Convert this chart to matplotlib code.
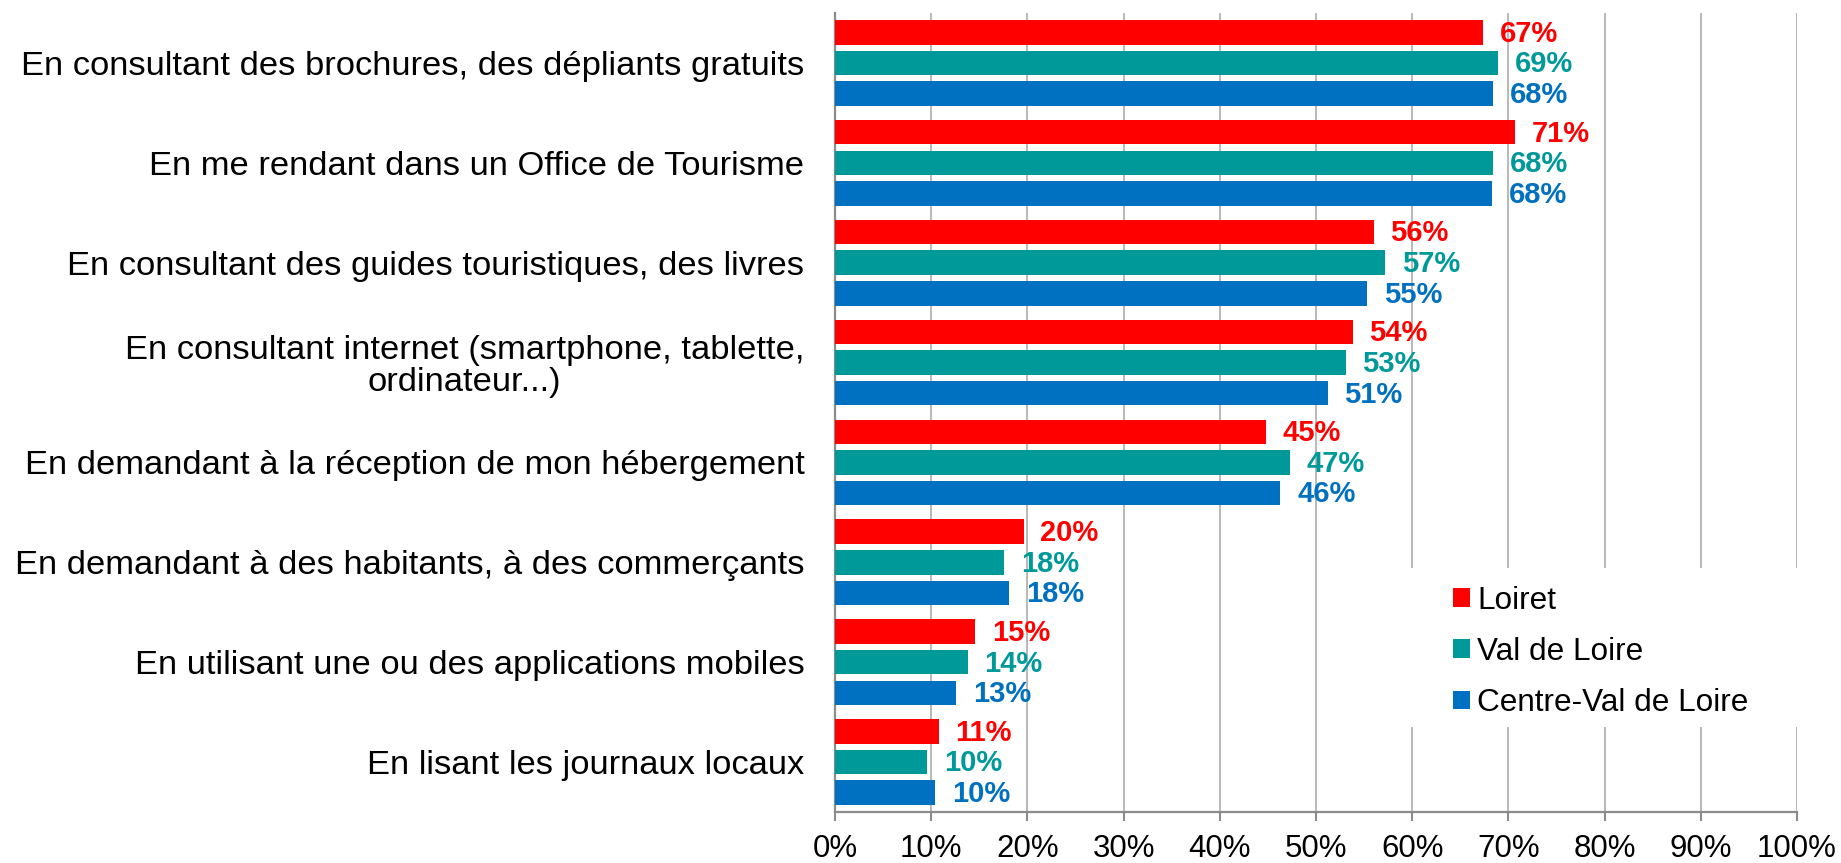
import matplotlib.pyplot as plt
from matplotlib.patches import Patch, Rectangle
import numpy as np

plt.rcParams['font.family'] = ['Liberation Sans', 'DejaVu Sans']

# categories, top to bottom
categories = [
    "En consultant des brochures, des dépliants gratuits",
    "En me rendant dans un Office de Tourisme",
    "En consultant des guides touristiques, des livres",
    "En consultant internet (smartphone, tablette,\nordinateur...)",
    "En demandant à la réception de mon hébergement",
    "En demandant à des habitants, à des commerçants",
    "En utilisant une ou des applications mobiles",
    "En lisant les journaux locaux",
]
loiret = [67.4, 70.7, 56.0, 53.8, 44.8, 19.6, 14.6, 10.8]
val_de_loire = [68.9, 68.4, 57.2, 53.1, 47.3, 17.6, 13.8, 9.6]
centre_vdl = [68.4, 68.3, 55.3, 51.2, 46.3, 18.1, 12.6, 10.4]
series_names = ["Loiret", "Val de Loire", "Centre-Val de Loire"]
xticks = [0, 10, 20, 30, 40, 50, 60, 70, 80, 90, 100]

colors = ["#FF0000", "#009999", "#0070C0"]

fig = plt.figure(figsize=(18.41, 8.63), dpi=100, facecolor='white')
ax = fig.add_axes([835/1841, 1 - 812/863, (1797 - 835)/1841, (812 - 13)/863])

y = np.arange(len(categories))
pitch = 0.307
h = 0.245
for k, (vals, col) in enumerate(zip([loiret, val_de_loire, centre_vdl], colors)):
    pos = y + (k - 1) * pitch
    ax.barh(pos, vals, height=h, color=col, zorder=3)
    for p, v in zip(pos, vals):
        ax.annotate(f"{round(v)}%", xy=(v, p), xytext=(12, -1),
                    textcoords='offset points', ha='left', va='center',
                    fontsize=21, fontweight='bold', color=col, zorder=4)

ax.set_xlim(0, 100)
ax.set_ylim(len(categories) - 0.5, -0.5)
ax.set_xticks(xticks)
ax.set_xticklabels([f"{t}%" for t in xticks], fontsize=22.5)
ax.set_yticks(y)
ax.set_yticklabels(categories, fontsize=24.8, multialignment='center',
                   linespacing=1.05)
ax.tick_params(axis='y', length=0, pad=22)
ax.tick_params(axis='x', length=6.5, width=1.5, color='#8C8C8C', pad=9)

ax.set_axisbelow(True)
ax.grid(axis='x', color='#A6A6A6', linewidth=1.1, zorder=0)
for s in ['top', 'right']:
    ax.spines[s].set_visible(False)
for s in ['left', 'bottom']:
    ax.spines[s].set_color('#8C8C8C')
    ax.spines[s].set_linewidth(1.6)

# white area behind the legend
ax.add_patch(Rectangle((1405/1841, 1 - 727/863), 436/1841, 159/863,
                       transform=fig.transFigure, facecolor='white',
                       edgecolor='none', zorder=1, clip_on=False))

handles = [Patch(facecolor=c, edgecolor='none') for c in colors]
fig.legend(handles, series_names, loc='center left',
           bbox_to_anchor=(1453/1841, 1 - 652/863), frameon=False,
           fontsize=22.7, handlelength=0.54, handleheight=0.54,
           handletextpad=0.22, labelspacing=0.67, borderpad=0,
           borderaxespad=0)

fig.savefig("out.png", dpi=100)
